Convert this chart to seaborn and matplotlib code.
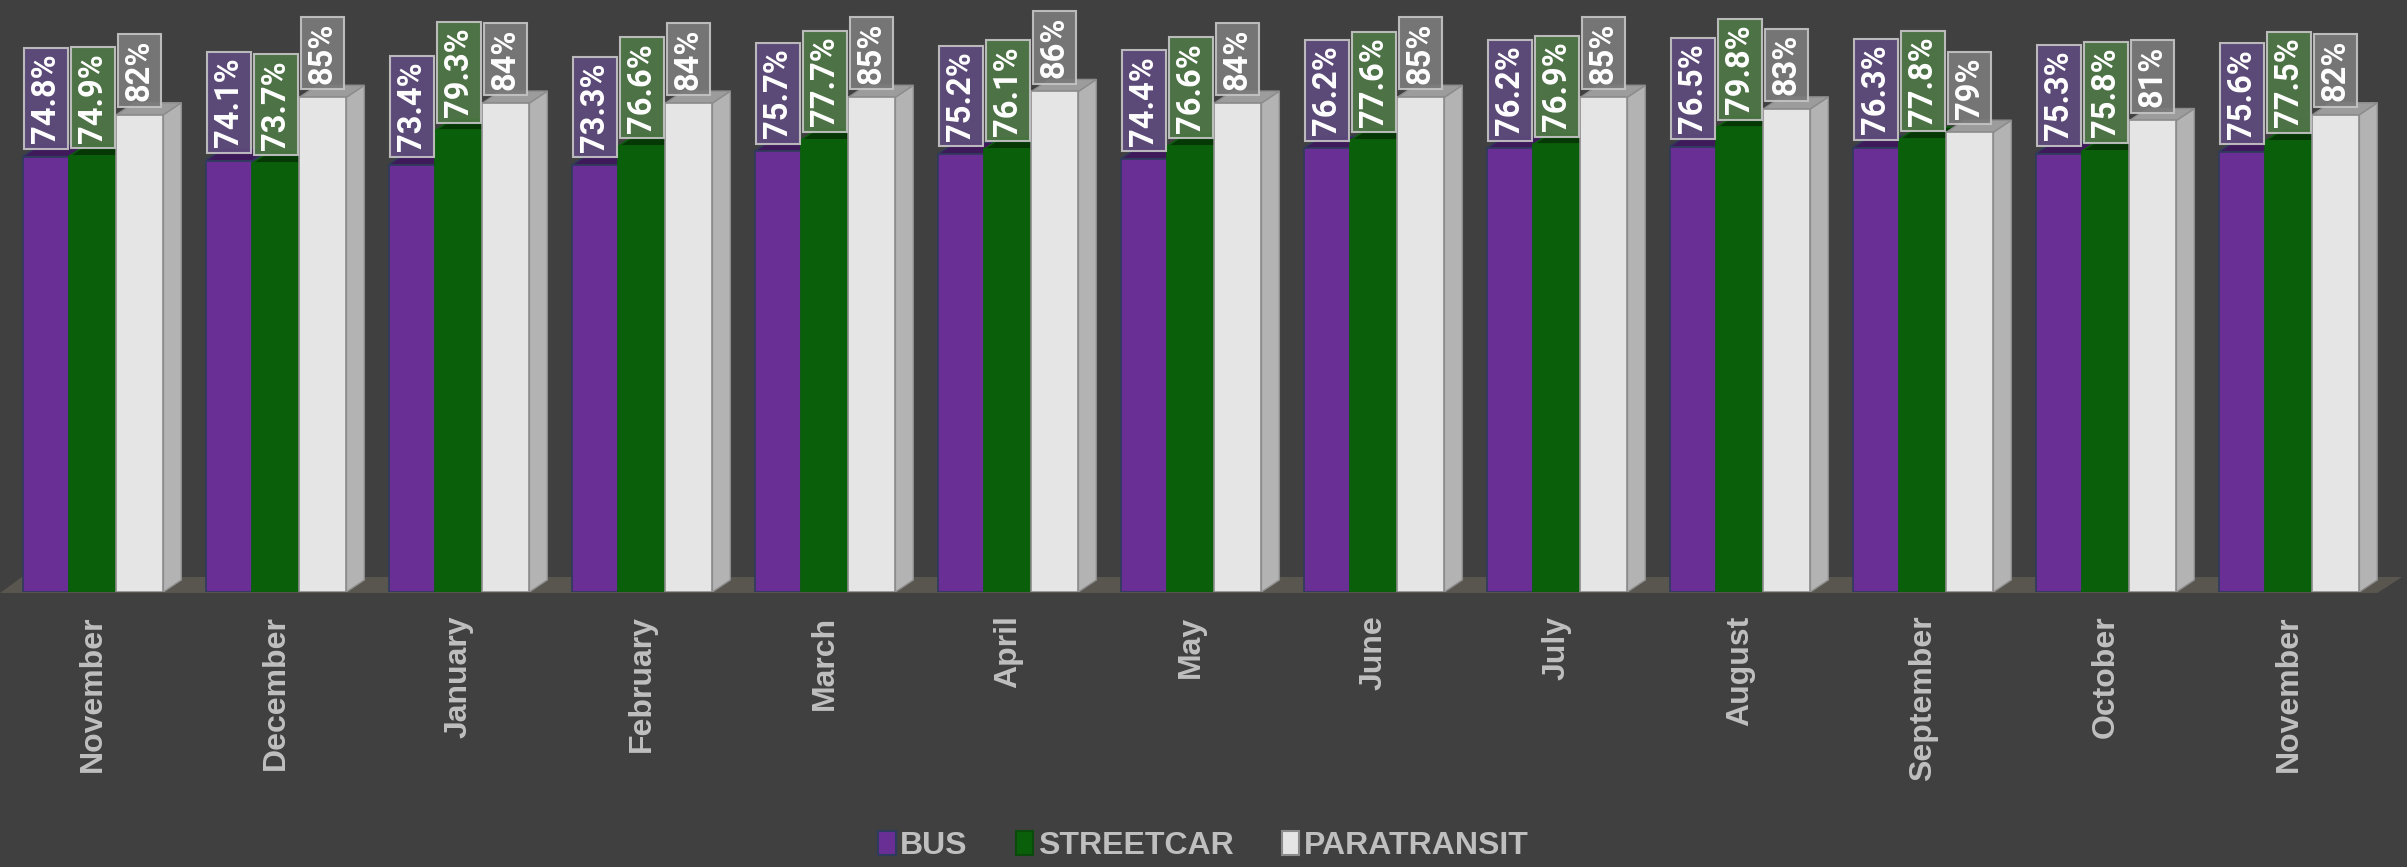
import matplotlib.pyplot as plt
import numpy as np
import pandas as pd
import seaborn as sns
from matplotlib.patches import Polygon, Patch

# -------------------------- data --------------------------
months = ['November', 'December', 'January', 'February', 'March', 'April', 'May',
          'June', 'July', 'August', 'September', 'October', 'November']
modes = ['BUS', 'STREETCAR', 'PARATRANSIT']
bus = [74.8, 74.1, 73.4, 73.3, 75.7, 75.2, 74.4, 76.2, 76.2, 76.5, 76.3, 75.3, 75.6]
streetcar = [74.9, 73.7, 79.3, 76.6, 77.7, 76.1, 76.6, 77.6, 76.9, 79.8, 77.8, 75.8, 77.5]
paratransit = [82, 85, 84, 84, 85, 86, 84, 85, 85, 83, 79, 81, 82]
label_fmt = ['{:.1f}%', '{:.1f}%', '{:.0f}%']

df = pd.DataFrame({
    'period': list(range(len(months))) * len(modes),
    'mode': np.repeat(modes, len(months)),
    'value': bus + streetcar + paratransit,
})

# -------------------------- style --------------------------
bg = '#404040'
front_colors = ['#6a2f95', '#0a5f0a', '#e5e5e5']
side_colors = ['#4b2068', '#064406', '#b3b3b3']
top_colors = ['#3f1a5a', '#053805', '#9c9c9c']
edge_colors = ['#2f3b5c', '#0a5f0a', '#8c8c8c']
box_colors = ['#5e4a7c', '#4e7746', '#7a7a7a']
txt_col = '#bfbfbf'

sns.set_theme(style='white')
plt.rcParams['font.family'] = ['Liberation Sans', 'DejaVu Sans']

fig = plt.figure(figsize=(24.07, 8.67), dpi=100, facecolor=bg)
ax = fig.add_axes([0, 0.3172, 1, 0.6828])
ax.set_facecolor(bg)

sns.barplot(data=df, x='period', y='value', hue='mode', hue_order=modes,
            palette=front_colors, width=0.77, saturation=1, legend=False, ax=ax)

ax.set_xlim(-0.508, 12.645)
ax.set_ylim(0, 101.7)

# pseudo-3D depth (data units)
dx, dy = 0.098, 2.06

for j, cont in enumerate(ax.containers):
    for bar in cont.patches:
        x0 = bar.get_x()
        w = bar.get_width()
        h = bar.get_height()
        bar.set_zorder(2 + 2 * j)
        bar.set_edgecolor(edge_colors[j])
        bar.set_linewidth(1.2)
        side = Polygon([(x0 + w, 0), (x0 + w + dx, dy), (x0 + w + dx, h + dy), (x0 + w, h)],
                       closed=True, facecolor=side_colors[j], edgecolor=edge_colors[j],
                       linewidth=1, zorder=1 + 2 * j)
        top = Polygon([(x0, h), (x0 + dx, h + dy), (x0 + w + dx, h + dy), (x0 + w, h)],
                      closed=True, facecolor=top_colors[j], edgecolor=edge_colors[j],
                      linewidth=1, zorder=1 + 2 * j)
        ax.add_patch(side)
        ax.add_patch(top)
        ax.text(x0 + w / 2, h + 2.3, label_fmt[j].format(h), rotation=90,
                ha='center', va='bottom', color='white', fontsize=23.5,
                fontweight='bold', family=['Roboto', 'DejaVu Sans'], zorder=20,
                bbox=dict(boxstyle='square,pad=0.17', facecolor=box_colors[j],
                          edgecolor='#c4c4c4', linewidth=1.5, alpha=0.92))

# floor
last = ax.containers[-1].patches[-1]
xr = last.get_x() + last.get_width() + dx
x_left = ax.get_xlim()[0]
floor = Polygon([(x_left, -0.17), (xr, -0.17), (xr + 0.135, 2.58), (x_left + 0.12, 2.58)],
                closed=True, facecolor='#58564e', edgecolor='none', zorder=0.5, clip_on=False)
ax.add_patch(floor)

ax.set_xticks(range(len(months)))
ax.set_xticklabels(months, rotation=90, fontsize=23, fontweight='bold', color=txt_col)
ax.tick_params(axis='x', length=0, pad=17)
ax.set_yticks([])
ax.set_xlabel('')
ax.set_ylabel('')
for s in ax.spines.values():
    s.set_visible(False)

handles = [Patch(facecolor=front_colors[i], edgecolor=edge_colors[i] if i != 1 else '#0a4a0a',
                 linewidth=1.5, label=modes[i]) for i in range(len(modes))]
leg = fig.legend(handles=handles, loc='center', bbox_to_anchor=(0.5, 0.024), ncol=3,
                 frameon=False, fontsize=23, handlelength=0.55, handleheight=0.8,
                 handletextpad=0.15, columnspacing=1.5)
for t in leg.get_texts():
    t.set_color(txt_col)
    t.set_fontweight('bold')

fig.savefig('out.png', dpi=100, facecolor=bg)
